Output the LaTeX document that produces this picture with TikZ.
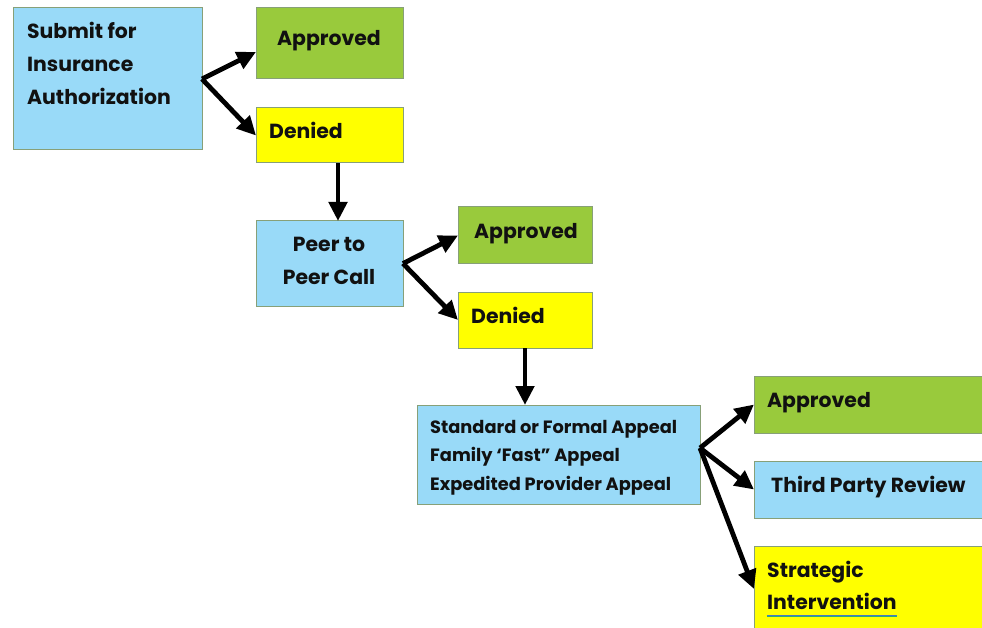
\documentclass[tikz,border=0pt]{standalone}
\usepackage{fontspec}
\setmainfont{Poppins}
\usetikzlibrary{arrows.meta}
\definecolor{lblue}{RGB}{153,218,248}
\definecolor{lgreen}{RGB}{153,202,60}
\definecolor{lyellow}{RGB}{255,255,0}
\definecolor{bord}{RGB}{135,160,120}
\definecolor{txt}{RGB}{17,17,17}
\definecolor{ulc}{RGB}{70,120,200}
\tikzset{
  box/.style={draw=bord, line width=1pt, inner sep=0pt, outer sep=0pt},
  bluebox/.style={box, fill=lblue},
  greenbox/.style={box, fill=lgreen},
  yellowbox/.style={box, fill=lyellow},
  lbl/.style={inner sep=0pt, anchor=west, text=txt, text height=14.3pt, text depth=0pt, font=\fontsize{20.4}{24}\selectfont\bfseries},
  lblc/.style={lbl, anchor=center},
  slbl/.style={lbl, text height=12.5pt, font=\fontsize{17.8}{21}\selectfont\bfseries},
  arr/.style={line width=4.8pt, -{Triangle[length=19pt,width=18pt]}, black}
}
\begin{document}
\begin{tikzpicture}[x=1pt,y=-1pt]
\useasboundingbox[fill=white] (0,0) rectangle (982,628);
% boxes
\node[bluebox, minimum width=189pt, minimum height=142pt, anchor=north west] (sub) at (13,8) {};
\node[greenbox, minimum width=147pt, minimum height=71pt, anchor=north west] (ap1) at (256,8) {};
\node[yellowbox, minimum width=147pt, minimum height=55pt, anchor=north west] (de1) at (256,108) {};
\node[bluebox, minimum width=147pt, minimum height=85pt, anchor=north west] (peer) at (256,221) {};
\node[greenbox, minimum width=134pt, minimum height=57pt, anchor=north west] (ap2) at (458,207) {};
\node[yellowbox, minimum width=134pt, minimum height=56pt, anchor=north west] (de2) at (458,292) {};
\node[bluebox, minimum width=283pt, minimum height=99pt, anchor=north west] (app) at (417,405) {};
\node[greenbox, minimum width=230pt, minimum height=57pt, anchor=north west] (ap3) at (754,376) {};
\node[bluebox, minimum width=230pt, minimum height=57pt, anchor=north west] (tpr) at (754,461) {};
\node[yellowbox, minimum width=230pt, minimum height=86pt, anchor=north west] (si) at (754,546) {};
% texts
\node[lbl] (t1a) at (27,31) {Submit for};
\node[lbl] (t1b) at (27,64) {Insurance};
\node[lbl] (t1c) at (27,97) {Authorization};
\node[lblc] (t2) at (329,38) {Approved};
\node[lbl] (t3) at (269,131) {Denied};
\node[lblc] (t4a) at (329,244) {Peer to};
\node[lblc] (t4b) at (329,277) {Peer Call};
\node[lblc] (t5) at (526,231) {Approved};
\node[lbl] (t6) at (471,316) {Denied};
\node[slbl] (t7a) at (430,427) {Standard or Formal Appeal};
\node[slbl] (t7b) at (430,455) {Family ‘Fast” Appeal};
\node[slbl] (t7c) at (430,484) {Expedited Provider Appeal};
\node[lbl] (t8) at (767,400) {Approved};
\node[lbl] (t9) at (771,485) {Third Party Review};
\node[lbl] (t10a) at (767,570) {Strategic};
\node[lbl] (t10b) at (767,602) {Intervention};
\coordinate (ul1) at (767,615);
\coordinate (ul2) at (897,615);
\draw[ulc, line width=0.8pt] (ul1) -- (ul2);
\draw[ulc!60!green, line width=0.8pt] ([yshift=-1.5pt]ul1) -- ([yshift=-1.5pt]ul2);
% arrows
\draw[arr] (sub.east) -- ([yshift=-8.5pt]ap1.west);
\draw[arr] (sub.east) -- (de1.west);
\draw[arr] ([xshift=8.5pt]de1.south) -- ([xshift=8.5pt]peer.north);
\draw[arr] (peer.east) -- (ap2.west);
\draw[arr] (peer.east) -- (de2.west);
\draw[arr] (de2.south) -- (de2.south |- app.north);
\draw[arr] ([yshift=6.5pt]app.east) -- (ap3.west);
\draw[arr] ([yshift=6.5pt]app.east) -- (tpr.west);
\draw[arr] ([yshift=6.5pt]app.east) -- (si.west);
\end{tikzpicture}
\end{document}
